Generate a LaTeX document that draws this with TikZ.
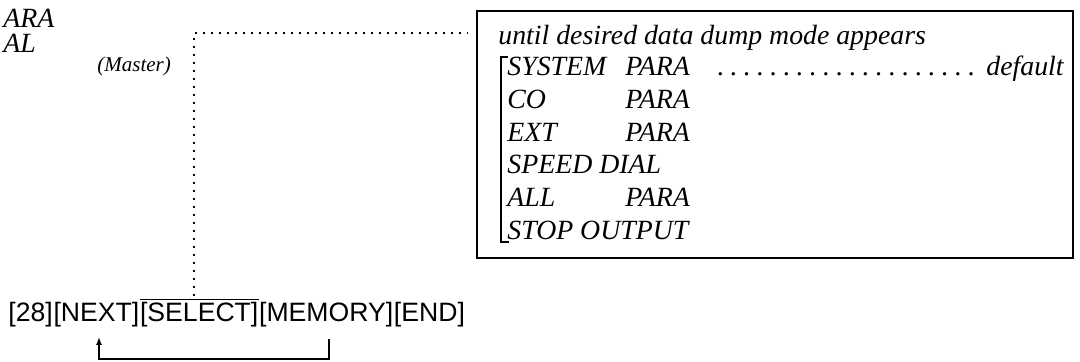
\documentclass[tikz,border=0pt]{standalone}
\usepackage{fontspec}
\setmainfont{Liberation Serif}
\newfontfamily\keyfont{Liberation Sans}
\usetikzlibrary{positioning,arrows.meta}

\tikzset{
  modetext/.style={font=\fontsize{13.9}{16}\selectfont\itshape,inner sep=0pt,anchor=base west},
  smalltext/.style={font=\fontsize{10.5}{12}\selectfont\itshape,inner sep=0pt,anchor=base west},
  keytext/.style={font=\keyfont\fontsize{13.3}{16}\selectfont,inner sep=0pt,anchor=base west},
  dotline/.style={line width=1.2pt,dash pattern=on 1.2pt off 2.8pt},
  feedline/.style={line width=0.7pt},
}

\begin{document}
\begin{tikzpicture}[x=0.5pt,y=-0.5pt]
  \path[use as bounding box] (0,0) rectangle (1080,362);
  % list cut off at the left edge
  \node[modetext] (lparA) at (3,28) {ARA};
  \node[modetext] (ldialA) at (3,53) {AL};
  \node[smalltext] (lmaster) at (97,72) {(Master)};
  % mode box
  \node[draw,line width=1pt,inner sep=0pt,minimum width=298pt,minimum height=123.5pt,anchor=north west] (modebox) at (476,10) {};
  \node[modetext] (title) at (498,45) {until desired data dump mode appears};
  \foreach \first/\yy in {SYSTEM/76,CO/109,EXT/142,ALL/207} {
    \node[modetext] (w\first) at (507,\yy) {\first};
    \node[modetext] (p\first) at (625,\yy) {PARA};
  }
  \node[modetext] (wSPEED) at (507,174) {SPEED DIAL};
  \node[modetext] (wSTOP) at (507,240) {STOP OUTPUT};
  \node[modetext] (leader) at (714,76) {\hbox to 133pt{\leaders\hbox to 6.6pt{\hss.\hss}\hfill}};
  \node[modetext,anchor=base east] (default) at (1064,76) {default};
  \draw[line width=0.8pt] (508,57) -- (501,57) -- (501,242) -- (509,242);
  % key sequence
  \node[keytext] (k28) at (8,322) {[28]};
  \node[keytext,base right=0pt of k28] (knext) {[NEXT]};
  \node[keytext,base right=0pt of knext] (ksel) {[SELECT]};
  \node[keytext,base right=0pt of ksel] (kmem) {[MEMORY]};
  \node[keytext,base right=0pt of kmem] (kend) {[END]};
  \draw[feedline] ([yshift=1.5pt]ksel.north west) -- ([yshift=1.5pt]ksel.north east);
  % dotted lead to the box
  \coordinate (seltop) at (194,296);
  \coordinate (boxlead) at (468,33);
  \draw[dotline] (seltop) |- (boxlead);
  % return arrow
  \coordinate (memfoot) at (329,339);
  \coordinate (nextfoot) at (99,337);
  \draw[feedline,-{Latex[length=4pt,width=3pt]}] (memfoot) -- ++(0,20) -| (nextfoot);
\end{tikzpicture}
\end{document}
